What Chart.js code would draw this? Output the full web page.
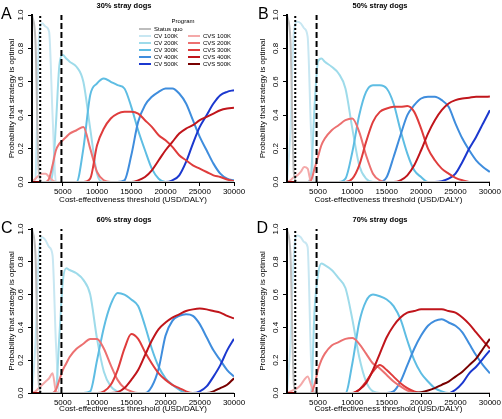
<!DOCTYPE html>
<html>
<head>
<meta charset="utf-8">
<script src="https://cdn.jsdelivr.net/npm/chart.js@4.4.1/dist/chart.umd.min.js"></script>
<style>
body { margin: 0; background: #fff; }
#wrap { position: relative; width: 502px; height: 419px; font-family: "Liberation Sans", Arial, sans-serif; color: #000; }
canvas { position: absolute; }
.lbl { position: absolute; line-height: 1; white-space: nowrap; }
.letter { font-size: 16px; }
.ptitle { font-size: 7.5px; font-weight: bold; transform: translateX(-50%); }
.leg { font-size: 6px; }
.sw { position: absolute; height: 2px; width: 12px; }
</style>
</head>
<body>
<div id="wrap">
  <canvas id="panelA" width="251" height="210" style="left:0;top:0"></canvas>
  <canvas id="panelB" width="251" height="210" style="left:251px;top:0"></canvas>
  <canvas id="panelC" width="251" height="209" style="left:0;top:210px"></canvas>
  <canvas id="panelD" width="251" height="209" style="left:251px;top:210px"></canvas>

  <div class="lbl letter" style="left:1px;top:6px">A</div>
  <div class="lbl letter" style="left:258px;top:6px">B</div>
  <div class="lbl letter" style="left:1px;top:219.5px">C</div>
  <div class="lbl letter" style="left:256.5px;top:219.5px">D</div>

  <div class="lbl ptitle" style="left:124px;top:2px">30% stray dogs</div>
  <div class="lbl ptitle" style="left:380px;top:2px">50% stray dogs</div>
  <div class="lbl ptitle" style="left:124px;top:215.7px">60% stray dogs</div>
  <div class="lbl ptitle" style="left:380px;top:215.7px">70% stray dogs</div>

  <div id="legend"></div>
</div>
<script>
// cost-effectiveness thresholds (USD/DALY)
var thresholds = [500, 1000, 1500, 2000, 2500, 3000, 3500, 4000, 4500, 5000, 5500, 6000,
  7000, 8000, 9000, 10000, 11000, 12000, 13000, 14000, 15000, 16000, 17000, 18000,
  19000, 20000, 21000, 22000, 23000, 24000, 25000, 26000, 27000, 28000, 29000, 30000];
var xTicks = [5000, 10000, 15000, 20000, 25000, 30000];
var gdpOnce = 1700;    // dotted line
var gdpThrice = 4800;  // dashed line

var programs = ["Status quo", "CV 100K", "CV 200K", "CV 300K", "CV 400K", "CV 500K",
  "CVS 100K", "CVS 200K", "CVS 300K", "CVS 400K", "CVS 500K"];
var programColors = ["#bdbdbd", "#c8e7f2", "#9edbea", "#5ebde3", "#3f8ddd", "#1b38cf",
  "#f4a9a9", "#ec7070", "#df3c3c", "#c0151b", "#780000"];

// ---- 30% stray dogs ----
var sqA = [1,0.85,0.05,0,0,0,0,0,0,0,0,0,
  0,0,0,0,0,0,0,0,0,0,0,0,0,0,0,0,0,0,0,0,0,0,0,0];
var cv100A = [0,0.02,0.85,0.95,0.93,0.9,0.4,0,0,0,0,0,
  0,0,0,0,0,0,0,0,0,0,0,0,0,0,0,0,0,0,0,0,0,0,0,0];
var cv200A = [0,0,0,0,0,0,0.05,0.35,0.7,0.76,0.74,0.72,
  0.69,0.6,0.32,0.05,0,0,0,0,0,0,0,0,0,0,0,0,0,0,0,0,0,0,0,0];
var cv300A = [0,0,0,0,0,0,0,0,0,0,0,0,
  0,0.2,0.52,0.59,0.62,0.6,0.58,0.56,0.45,0.31,0.19,0.08,0.02,0,0,0,0,0,0,0,0,0,0,0];
var cv400A = [0,0,0,0,0,0,0,0,0,0,0,0,
  0,0,0,0,0,0,0,0.01,0.16,0.36,0.46,0.51,0.54,0.56,0.56,0.53,0.47,0.37,0.27,0.19,0.11,0.05,0.02,0.01];
var cv500A = [0,0,0,0,0,0,0,0,0,0,0,0,
  0,0,0,0,0,0,0,0,0,0,0,0,0,0,0.01,0.04,0.12,0.23,0.33,0.4,0.47,0.52,0.54,0.55];
var cvs100A = [0,0.02,0.04,0.05,0.05,0.03,0.01,0,0,0,0,0,
  0,0,0,0,0,0,0,0,0,0,0,0,0,0,0,0,0,0,0,0,0,0,0,0];
var cvs200A = [0,0,0,0,0,0.02,0.1,0.19,0.23,0.25,0.27,0.29,
  0.31,0.33,0.2,0.06,0.01,0,0,0,0,0,0,0,0,0,0,0,0,0,0,0,0,0,0,0];
var cvs300A = [0,0,0,0,0,0,0,0,0,0,0,0,
  0,0,0.02,0.22,0.32,0.38,0.41,0.42,0.42,0.41,0.37,0.33,0.28,0.25,0.21,0.16,0.13,0.1,0.08,0.06,0.04,0.03,0.015,0.005];
var cvs400A = [0,0,0,0,0,0,0,0,0,0,0,0,
  0,0,0,0,0,0,0,0,0,0.01,0.03,0.07,0.13,0.19,0.24,0.29,0.32,0.34,0.37,0.39,0.41,0.43,0.44,0.445];
var cvs500A = [0,0,0,0,0,0,0,0,0,0,0,0,
  0,0,0,0,0,0,0,0,0,0,0,0,0,0,0,0,0,0,0,0,0,0,0,0];

// ---- 50% stray dogs ----
var sqB = [1,0.85,0.05,0,0,0,0,0,0,0,0,0,
  0,0,0,0,0,0,0,0,0,0,0,0,0,0,0,0,0,0,0,0,0,0,0,0];
var cv100B = [0,0.3,0.9,0.96,0.95,0.92,0.87,0.3,0,0,0,0,
  0,0,0,0,0,0,0,0,0,0,0,0,0,0,0,0,0,0,0,0,0,0,0,0];
var cv200B = [0,0,0,0,0,0,0,0.05,0.45,0.72,0.74,0.72,
  0.69,0.65,0.56,0.32,0.1,0.02,0,0,0,0,0,0,0,0,0,0,0,0,0,0,0,0,0,0];
var cv300B = [0,0,0,0,0,0,0,0,0,0,0,0,
  0,0,0.02,0.18,0.4,0.54,0.58,0.58,0.56,0.47,0.31,0.17,0.07,0.03,0,0,0,0,0,0,0,0,0,0];
var cv400B = [0,0,0,0,0,0,0,0,0,0,0,0,
  0,0,0,0,0,0,0,0,0.03,0.15,0.28,0.4,0.46,0.5,0.51,0.51,0.49,0.45,0.35,0.26,0.19,0.13,0.09,0.06];
var cv500B = [0,0,0,0,0,0,0,0,0,0,0,0,
  0,0,0,0,0,0,0,0,0,0,0,0,0,0,0,0,0.005,0.02,0.05,0.12,0.2,0.27,0.35,0.43];
var cvs100B = [0,0.01,0.03,0.04,0.06,0.09,0.08,0,0,0,0,0,
  0,0,0,0,0,0,0,0,0,0,0,0,0,0,0,0,0,0,0,0,0,0,0,0];
var cvs200B = [0,0,0,0,0,0,0,0.01,0.08,0.15,0.22,0.26,
  0.31,0.34,0.37,0.38,0.3,0.16,0.05,0.01,0,0,0,0,0,0,0,0,0,0,0,0,0,0,0,0];
var cvs300B = [0,0,0,0,0,0,0,0,0,0,0,0,
  0,0,0,0.02,0.1,0.24,0.36,0.42,0.44,0.45,0.45,0.455,0.42,0.32,0.2,0.13,0.08,0.05,0.025,0.01,0,0,0,0];
var cvs400B = [0,0,0,0,0,0,0,0,0,0,0,0,
  0,0,0,0,0,0,0,0,0,0,0.01,0.04,0.1,0.19,0.29,0.37,0.43,0.47,0.49,0.5,0.505,0.51,0.51,0.512];
var cvs500B = [0,0,0,0,0,0,0,0,0,0,0,0,
  0,0,0,0,0,0,0,0,0,0,0,0,0,0,0,0,0,0,0,0,0,0,0,0];

// ---- 60% stray dogs ----
var sqC = [1,0.85,0.05,0,0,0,0,0,0,0,0,0,
  0,0,0,0,0,0,0,0,0,0,0,0,0,0,0,0,0,0,0,0,0,0,0,0];
var cv100C = [0,0.3,0.85,0.95,0.93,0.89,0.84,0.3,0,0,0,0,
  0,0,0,0,0,0,0,0,0,0,0,0,0,0,0,0,0,0,0,0,0,0,0,0];
var cv200C = [0,0,0,0,0,0,0,0.02,0.35,0.68,0.76,0.75,
  0.73,0.69,0.6,0.33,0.13,0.04,0.01,0,0,0,0,0,0,0,0,0,0,0,0,0,0,0,0,0];
var cv300C = [0,0,0,0,0,0,0,0,0,0,0,0,
  0,0,0.01,0.2,0.4,0.54,0.61,0.6,0.57,0.53,0.41,0.27,0.16,0.09,0.05,0.02,0,0,0,0,0,0,0,0];
var cv400C = [0,0,0,0,0,0,0,0,0,0,0,0,
  0,0,0,0,0,0,0,0,0,0,0,0.04,0.15,0.35,0.44,0.47,0.48,0.47,0.42,0.34,0.26,0.2,0.14,0.1];
var cv500C = [0,0,0,0,0,0,0,0,0,0,0,0,
  0,0,0,0,0,0,0,0,0,0,0,0,0,0,0,0,0,0,0.01,0.04,0.1,0.17,0.26,0.33];
var cvs100C = [0,0.01,0.03,0.05,0.07,0.09,0.12,0.01,0,0,0,0,
  0,0,0,0,0,0,0,0,0,0,0,0,0,0,0,0,0,0,0,0,0,0,0,0];
var cvs200C = [0,0,0,0,0,0,0,0.02,0.08,0.14,0.18,0.22,
  0.27,0.3,0.33,0.33,0.27,0.17,0.08,0.03,0.01,0,0,0,0,0,0,0,0,0,0,0,0,0,0,0];
var cvs300C = [0,0,0,0,0,0,0,0,0,0,0,0,
  0,0,0,0,0.01,0.05,0.14,0.27,0.36,0.33,0.25,0.18,0.12,0.08,0.05,0.03,0.01,0,0,0,0,0,0,0];
var cvs400C = [0,0,0,0,0,0,0,0,0,0,0,0,
  0,0,0,0,0,0,0.005,0.03,0.08,0.14,0.23,0.32,0.39,0.43,0.46,0.48,0.5,0.51,0.515,0.51,0.5,0.49,0.47,0.455];
var cvs500C = [0,0,0,0,0,0,0,0,0,0,0,0,
  0,0,0,0,0,0,0,0,0,0,0,0,0,0,0,0,0,0,0,0,0.01,0.03,0.05,0.09];

// ---- 70% stray dogs ----
var sqD = [1,0.85,0.05,0,0,0,0,0,0,0,0,0,
  0,0,0,0,0,0,0,0,0,0,0,0,0,0,0,0,0,0,0,0,0,0,0,0];
var cv100D = [0,0.3,0.85,0.96,0.95,0.92,0.89,0.2,0,0,0,0,
  0,0,0,0,0,0,0,0,0,0,0,0,0,0,0,0,0,0,0,0,0,0,0,0];
var cv200D = [0,0,0,0,0,0,0,0,0.5,0.72,0.79,0.78,
  0.75,0.7,0.64,0.45,0.22,0.07,0.01,0,0,0,0,0,0,0,0,0,0,0,0,0,0,0,0,0];
var cv300D = [0,0,0,0,0,0,0,0,0,0,0,0,
  0,0,0,0.18,0.43,0.56,0.6,0.59,0.57,0.53,0.45,0.32,0.2,0.12,0.07,0.03,0.01,0,0,0,0,0,0,0];
var cv400D = [0,0,0,0,0,0,0,0,0,0,0,0,
  0,0,0,0,0,0,0,0,0,0.01,0.07,0.17,0.27,0.35,0.41,0.44,0.45,0.43,0.41,0.37,0.3,0.23,0.17,0.12];
var cv500D = [0,0,0,0,0,0,0,0,0,0,0,0,
  0,0,0,0,0,0,0,0,0,0,0,0,0,0,0,0,0,0,0.02,0.06,0.12,0.16,0.21,0.26];
var cvs100D = [0,0.01,0.02,0.03,0.05,0.08,0.1,0.05,0,0,0,0,
  0,0,0,0,0,0,0,0,0,0,0,0,0,0,0,0,0,0,0,0,0,0,0,0];
var cvs200D = [0,0,0,0,0,0,0,0,0.05,0.14,0.2,0.24,
  0.29,0.31,0.33,0.335,0.3,0.24,0.18,0.15,0.11,0.07,0.04,0.015,0.005,0,0,0,0,0,0,0,0,0,0,0];
var cvs300D = [0,0,0,0,0,0,0,0,0,0,0,0,
  0,0,0,0,0.02,0.07,0.13,0.17,0.14,0.1,0.06,0.03,0.01,0,0,0,0,0,0,0,0,0,0,0];
var cvs400D = [0,0,0,0,0,0,0,0,0,0,0,0,
  0,0,0,0,0.02,0.06,0.14,0.24,0.34,0.41,0.46,0.49,0.5,0.51,0.51,0.51,0.51,0.5,0.49,0.46,0.42,0.37,0.32,0.27];
var cvs500D = [0,0,0,0,0,0,0,0,0,0,0,0,
  0,0,0,0,0,0,0,0,0,0,0,0,0,0.005,0.015,0.03,0.05,0.07,0.1,0.13,0.17,0.21,0.27,0.33];

var fontFamily = '"Liberation Sans", Arial, sans-serif';

function makePanel(canvasId, series, area) {
    var canvas = document.getElementById(canvasId);
    var w = canvas.width;
    var h = canvas.height;
    var datasets = [];

    for (var i = 0; i < series.length; i++) {
        var pts = [];
        for (var j = 0; j < thresholds.length; j++) {
            pts.push({x: thresholds[j], y: series[i][j]});
        }
        datasets.push({
            label: programs[i],
            data: pts,
            borderColor: programColors[i],
            borderWidth: 2,
            pointRadius: 0,
            fill: false,
            cubicInterpolationMode: 'monotone',
            // status quo sits above the CV 100K line near the axis
            order: i === 0 ? 2 : series.length - i + 3
        });
    }
    // threshold reference lines
    datasets.push({
        label: 'GDP',
        data: [{x: gdpOnce, y: 0}, {x: gdpOnce, y: 1}],
        borderColor: '#000', borderWidth: 2, borderDash: [2, 2],
        pointRadius: 0, order: 1
    });
    datasets.push({
        label: '3xGDP',
        data: [{x: gdpThrice, y: 0}, {x: gdpThrice, y: 1}],
        borderColor: '#000', borderWidth: 2, borderDash: [6, 3],
        pointRadius: 0, order: 0
    });

    return new Chart(canvas.getContext('2d'), {
        type: 'line',
        data: {datasets: datasets},
        options: {
            responsive: false,
            animation: false,
            devicePixelRatio: 1,
            layout: {padding: {left: 0, right: w - area.r, top: area.t, bottom: 0}},
            plugins: {legend: {display: false}, tooltip: {enabled: false}},
            scales: {
                x: {
                    type: 'linear', min: 500, max: 30000,
                    afterBuildTicks: function(s) {
                        s.ticks = xTicks.map(function(v) { return {value: v}; });
                    },
                    afterFit: function(s) { s.height = h - area.b; },
                    border: {color: '#000', width: 1},
                    grid: {drawOnChartArea: false, tickLength: 4, color: '#000'},
                    ticks: {
                        autoSkip: false, minRotation: 0, maxRotation: 0, padding: 1,
                        color: '#000', font: {size: 8, family: fontFamily},
                        callback: function(v) { return String(v); }
                    },
                    title: {
                        display: true, text: 'Cost-effectiveness threshold (USD/DALY)',
                        color: '#000', font: {size: 8, family: fontFamily},
                        padding: {top: 0, bottom: 5}
                    }
                },
                y: {
                    type: 'linear', min: 0, max: 1,
                    afterFit: function(s) { s.width = area.l; },
                    border: {color: '#000', width: 2, z: 1},
                    grid: {drawOnChartArea: false, tickLength: 4, color: '#000'},
                    ticks: {
                        stepSize: 0.2, minRotation: 90, maxRotation: 90,
                        crossAlign: 'center', padding: 1.5,
                        color: '#000', font: {size: 8, family: fontFamily},
                        callback: function(v) { return v.toFixed(1); }
                    },
                    title: {
                        display: true, text: 'Probability that strategy is optimal',
                        color: '#000', font: {size: 8, family: fontFamily},
                        padding: {top: 7, bottom: 0}
                    }
                }
            }
        }
    });
}

makePanel('panelA', [sqA, cv100A, cv200A, cv300A, cv400A, cv500A, cvs100A, cvs200A, cvs300A, cvs400A, cvs500A],
    {l: 32, r: 234, t: 15, b: 182});
makePanel('panelB', [sqB, cv100B, cv200B, cv300B, cv400B, cv500B, cvs100B, cvs200B, cvs300B, cvs400B, cvs500B],
    {l: 36, r: 239, t: 15, b: 182});
makePanel('panelC', [sqC, cv100C, cv200C, cv300C, cv400C, cv500C, cvs100C, cvs200C, cvs300C, cvs400C, cvs500C],
    {l: 32, r: 234, t: 19, b: 183});
makePanel('panelD', [sqD, cv100D, cv200D, cv300D, cv400D, cv500D, cvs100D, cvs200D, cvs300D, cvs400D, cvs500D],
    {l: 36, r: 239, t: 19, b: 183});

// legend of panel A
var legend = document.getElementById('legend');
var html = '<div class="lbl leg" style="left:183px;top:17.5px;transform:translateX(-50%)">Program</div>';
for (var k = 0; k < programs.length; k++) {
    var row, lineX;
    if (k <= 5) { row = k; lineX = 139; }
    else { row = k - 5; lineX = 188; }
    var cy = 29.3 + row * 6.95;
    html += '<div class="sw" style="left:' + lineX + 'px;top:' + (cy - 1) + 'px;background:' + programColors[k] + '"></div>';
    html += '<div class="lbl leg" style="left:' + (lineX + 15) + 'px;top:' + (cy - 3) + 'px">' + programs[k] + '</div>';
}
legend.innerHTML = html;
</script>
</body>
</html>
